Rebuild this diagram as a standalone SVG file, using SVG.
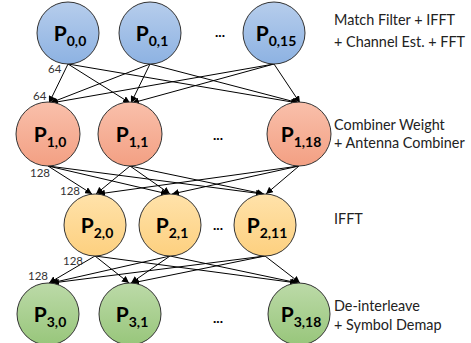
<svg xmlns="http://www.w3.org/2000/svg" width="471" height="343" viewBox="0 0 471 343">
<defs>
<linearGradient id="gB" x1="0" y1="0" x2="0" y2="1"><stop offset="0" stop-color="#b6cdec"/><stop offset="1" stop-color="#8db2e2"/></linearGradient>
<linearGradient id="gR" x1="0" y1="0" x2="0" y2="1"><stop offset="0" stop-color="#f9c0ab"/><stop offset="1" stop-color="#f3a083"/></linearGradient>
<linearGradient id="gY" x1="0" y1="0" x2="0" y2="1"><stop offset="0" stop-color="#ffe2aa"/><stop offset="1" stop-color="#fdd07f"/></linearGradient>
<linearGradient id="gG" x1="0" y1="0" x2="0" y2="1"><stop offset="0" stop-color="#bcdaa8"/><stop offset="1" stop-color="#98c67b"/></linearGradient>
<marker id="arr" viewBox="0 0 10 10" refX="10" refY="5" markerWidth="7" markerHeight="7" orient="auto" markerUnits="userSpaceOnUse"><path d="M0,0 L10,5 L0,10 z" fill="#000"/></marker>
<style>
circle{stroke:#333;stroke-width:1}
.lbl{font-family:Lato,"Liberation Sans",sans-serif;font-weight:bold;fill:#000;text-anchor:middle}
.p{font-size:21px}
.s{font-size:14px}
.dots{font-family:Lato,"Liberation Sans",sans-serif;font-weight:bold;font-size:14px;text-anchor:middle}
.desc{font-family:Lato,"Liberation Sans",sans-serif;font-size:14.4px;fill:#222}
.num{font-family:Lato,"Liberation Sans",sans-serif;font-size:11.5px;fill:#333}
.e line{stroke:#000;stroke-width:1;marker-end:url(#arr)}
</style>
</defs>
<rect width="471" height="343" fill="#fff"/>
<g id="connectors" class="e">
<line x1="68" y1="64" x2="49" y2="103"/>
<line x1="68" y1="64" x2="130" y2="103"/>
<line x1="68" y1="64" x2="298" y2="103"/>
<line x1="150" y1="64" x2="50" y2="103"/>
<line x1="150" y1="64" x2="131" y2="103"/>
<line x1="150" y1="64" x2="299" y2="103"/>
<line x1="274" y1="64" x2="51" y2="103"/>
<line x1="274" y1="64" x2="132" y2="103"/>
<line x1="274" y1="64" x2="300" y2="103"/>
<line x1="48" y1="166" x2="92" y2="194"/>
<line x1="48" y1="166" x2="168" y2="194"/>
<line x1="48" y1="166" x2="263" y2="194"/>
<line x1="130" y1="166" x2="96" y2="194"/>
<line x1="130" y1="166" x2="170" y2="194"/>
<line x1="130" y1="166" x2="264" y2="194"/>
<line x1="299" y1="166" x2="98" y2="194"/>
<line x1="299" y1="166" x2="172" y2="194"/>
<line x1="299" y1="166" x2="266" y2="194"/>
<line x1="95" y1="256" x2="49" y2="283"/>
<line x1="95" y1="256" x2="129" y2="283"/>
<line x1="95" y1="256" x2="297" y2="283"/>
<line x1="170" y1="256" x2="51" y2="283"/>
<line x1="170" y1="256" x2="131" y2="283"/>
<line x1="170" y1="256" x2="298" y2="283"/>
<line x1="265" y1="256" x2="52" y2="283"/>
<line x1="265" y1="256" x2="132" y2="283"/>
<line x1="265" y1="256" x2="300" y2="283"/>
</g>
<g id="n00"><circle cx="68" cy="33" r="31" fill="url(#gB)"/><text class="lbl" x="70" y="41"><tspan class="p">P</tspan><tspan class="s" dy="5">0,0</tspan></text></g>
<g id="n01"><circle cx="150" cy="33" r="31" fill="url(#gB)"/><text class="lbl" x="152" y="41"><tspan class="p">P</tspan><tspan class="s" dy="5">0,1</tspan></text></g>
<g id="n015"><circle cx="274" cy="33" r="31" fill="url(#gB)"/><text class="lbl" x="276" y="41"><tspan class="p">P</tspan><tspan class="s" dy="5">0,15</tspan></text></g>
<g id="n10"><circle cx="48" cy="134" r="32" fill="url(#gR)"/><text class="lbl" x="50" y="142"><tspan class="p">P</tspan><tspan class="s" dy="5">1,0</tspan></text></g>
<g id="n11"><circle cx="130" cy="134" r="32" fill="url(#gR)"/><text class="lbl" x="132" y="142"><tspan class="p">P</tspan><tspan class="s" dy="5">1,1</tspan></text></g>
<g id="n118"><circle cx="299" cy="134" r="32" fill="url(#gR)"/><text class="lbl" x="301" y="142"><tspan class="p">P</tspan><tspan class="s" dy="5">1,18</tspan></text></g>
<g id="n20"><circle cx="95" cy="225" r="31" fill="url(#gY)"/><text class="lbl" x="97" y="233"><tspan class="p">P</tspan><tspan class="s" dy="5">2,0</tspan></text></g>
<g id="n21"><circle cx="170" cy="225" r="31" fill="url(#gY)"/><text class="lbl" x="172" y="233"><tspan class="p">P</tspan><tspan class="s" dy="5">2,1</tspan></text></g>
<g id="n211"><circle cx="265" cy="225" r="31" fill="url(#gY)"/><text class="lbl" x="267" y="233"><tspan class="p">P</tspan><tspan class="s" dy="5">2,11</tspan></text></g>
<g id="n30"><circle cx="48" cy="314" r="31" fill="url(#gG)"/><text class="lbl" x="50" y="322"><tspan class="p">P</tspan><tspan class="s" dy="5">3,0</tspan></text></g>
<g id="n31"><circle cx="130" cy="314" r="31" fill="url(#gG)"/><text class="lbl" x="132" y="322"><tspan class="p">P</tspan><tspan class="s" dy="5">3,1</tspan></text></g>
<g id="n318"><circle cx="299" cy="314" r="31" fill="url(#gG)"/><text class="lbl" x="301" y="322"><tspan class="p">P</tspan><tspan class="s" dy="5">3,18</tspan></text></g>
<g id="dots">
<text class="dots" x="220" y="37">...</text>
<text class="dots" x="218" y="140">...</text>
<text class="dots" x="218" y="230">...</text>
<text class="dots" x="218" y="323">...</text>
</g>
<g id="nums">
<text class="num" x="48" y="73">64</text>
<text class="num" x="33" y="100">64</text>
<text class="num" x="30" y="177">128</text>
<text class="num" x="60" y="195">128</text>
<text class="num" x="63" y="265">128</text>
<text class="num" x="28" y="280">128</text>
</g>
<g id="descs">
<text class="desc" x="334" y="25">Match Filter + IFFT</text>
<text class="desc" x="334" y="47">+ Channel Est. + FFT</text>
<text class="desc" x="334" y="130">Combiner Weight</text>
<text class="desc" x="334" y="148">+ Antenna Combiner</text>
<text class="desc" x="334" y="224">IFFT</text>
<text class="desc" x="334" y="311">De-interleave</text>
<text class="desc" x="334" y="330">+ Symbol Demap</text>
</g>
</svg>
